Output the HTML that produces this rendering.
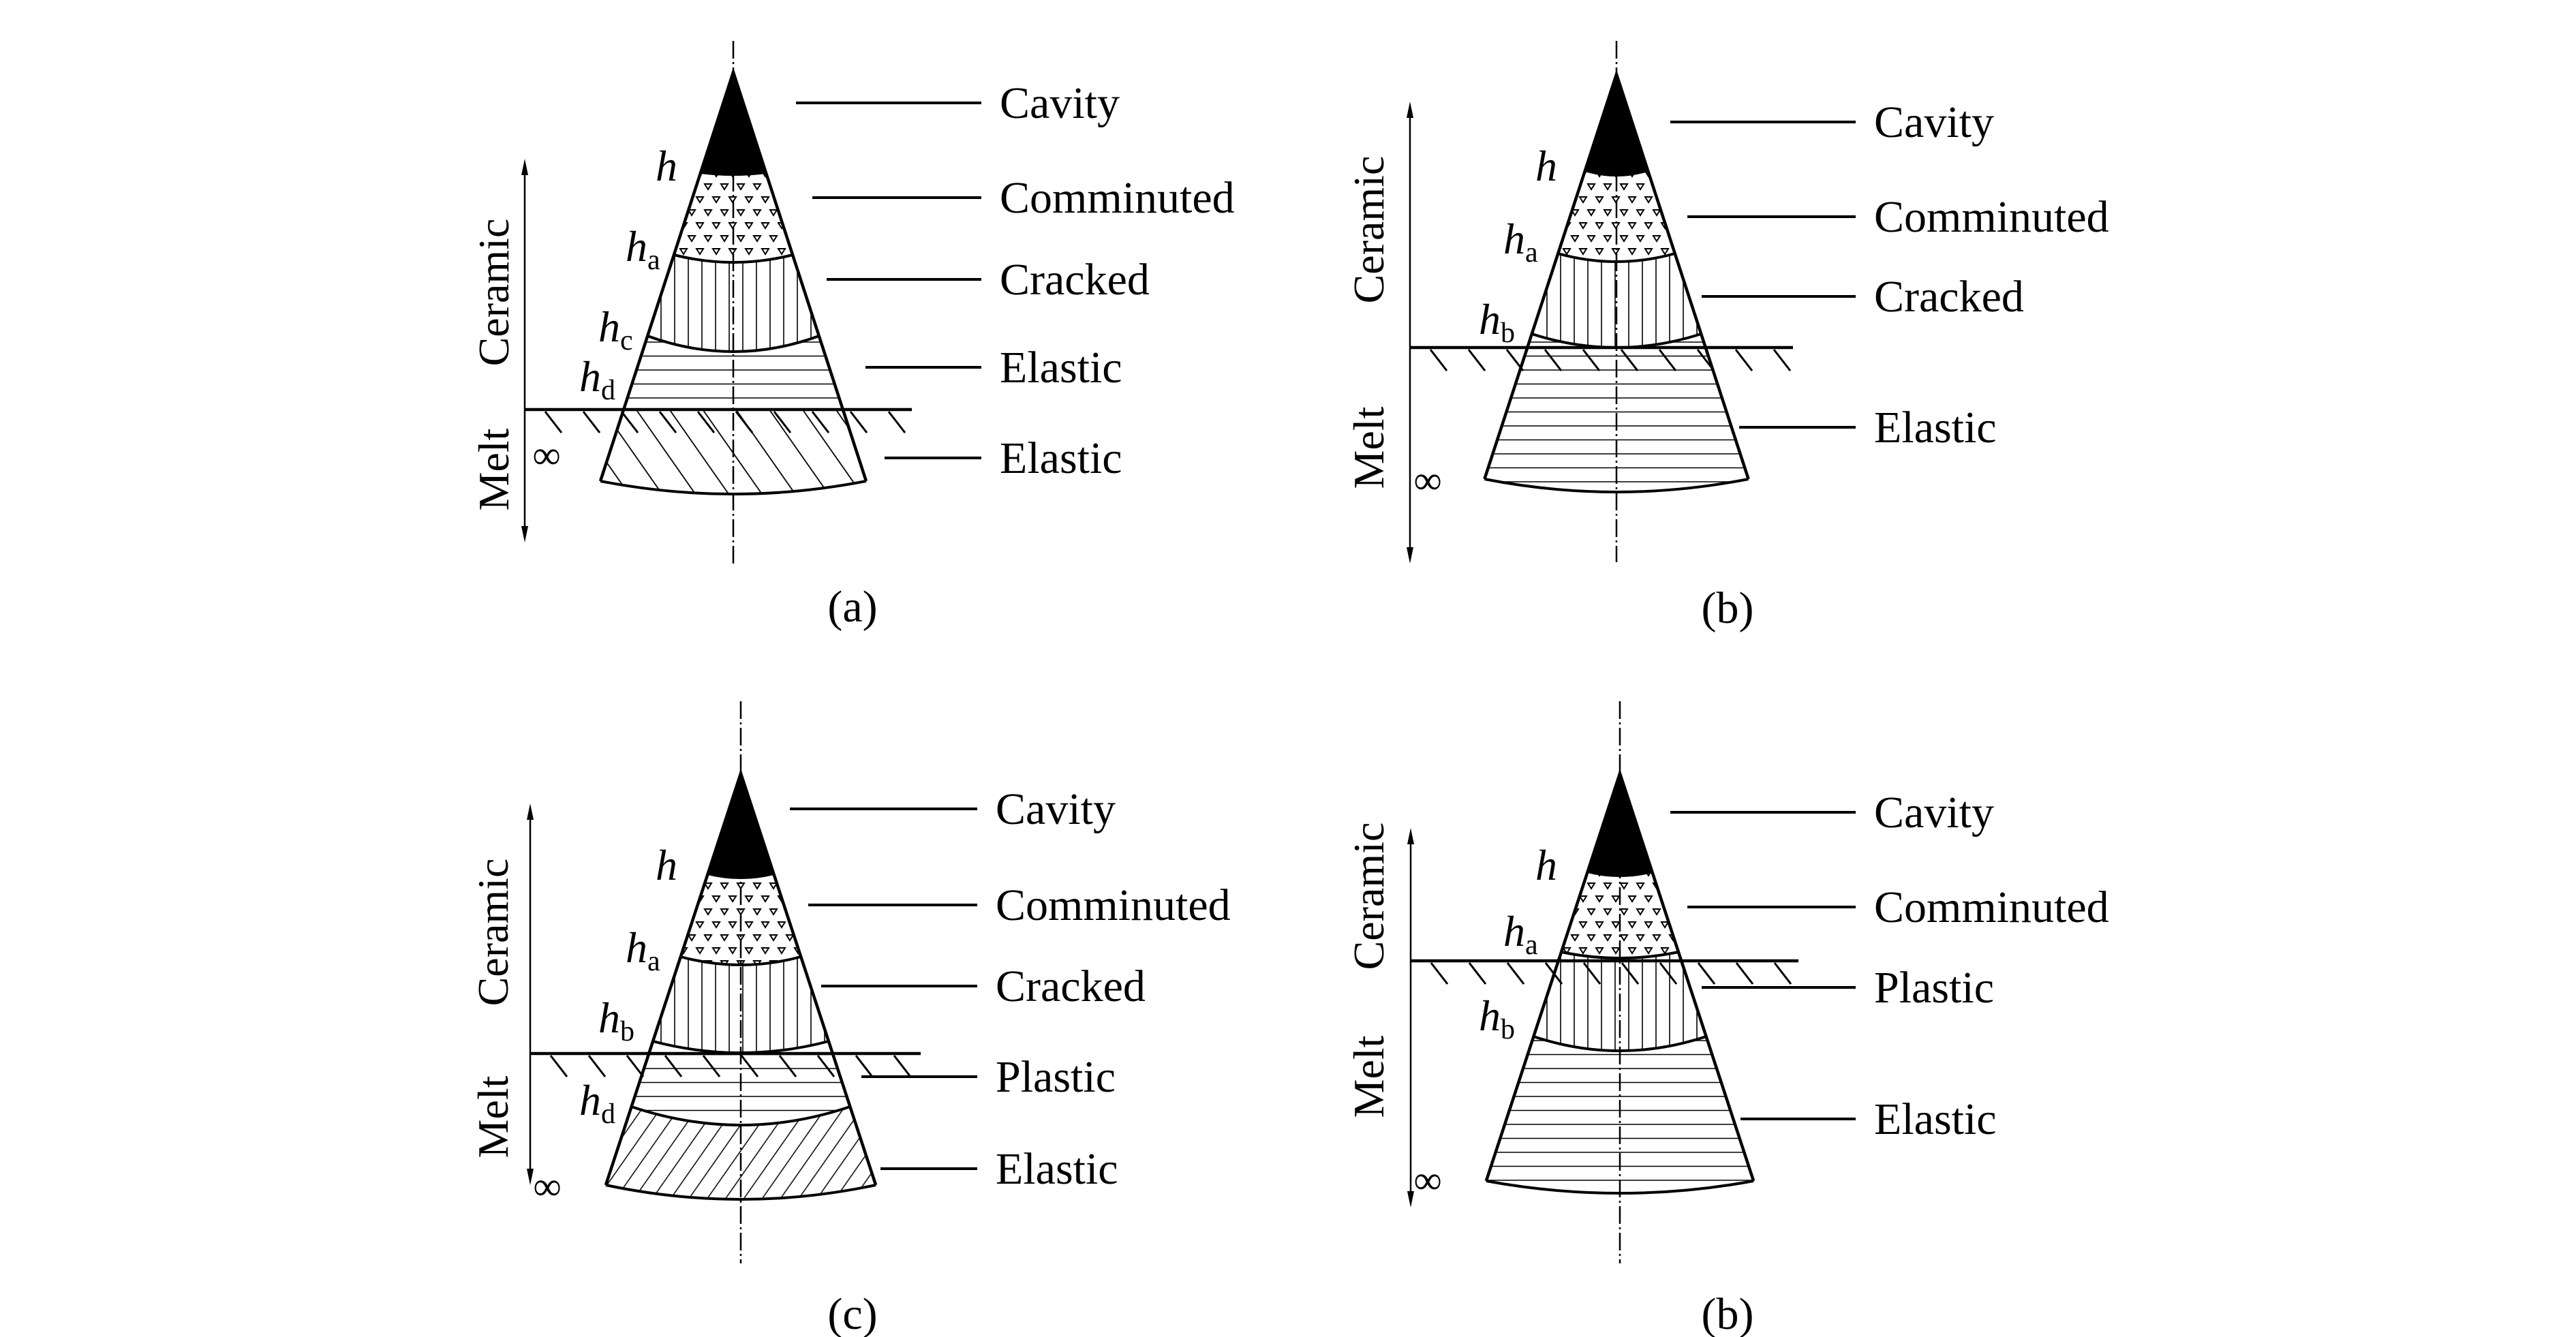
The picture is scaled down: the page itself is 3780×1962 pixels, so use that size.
<!DOCTYPE html>
<html><head><meta charset="utf-8"><style>
html,body{margin:0;padding:0;background:#fff;}
svg{display:block;}
text{font-family:"Liberation Serif",serif;fill:#000;}
</style></head><body>
<svg id="fig" width="3780" height="1962" viewBox="0 0 3780 1962" xmlns="http://www.w3.org/2000/svg">
<defs>
<pattern id="tri" patternUnits="userSpaceOnUse" width="24" height="38" x="0" y="0">
<path d="M2,4 L12,4 L7,12 Z M14,23 L24,23 L19,31 Z M-10,23 L0,23 L-5,31 Z" fill="none" stroke="#000" stroke-width="2"/>
</pattern>
<pattern id="vert" patternUnits="userSpaceOnUse" width="20" height="20"><line x1="10" y1="0" x2="10" y2="20" stroke="#000" stroke-width="1.6"/></pattern>
<pattern id="horz" patternUnits="userSpaceOnUse" width="20" height="20.5"><line x1="0" y1="10" x2="20" y2="10" stroke="#000" stroke-width="1.6"/></pattern>
<pattern id="back" patternUnits="userSpaceOnUse" width="40" height="40" patternTransform="rotate(-35)"><line x1="20" y1="0" x2="20" y2="40" stroke="#000" stroke-width="1.8"/></pattern>
<pattern id="fwd" patternUnits="userSpaceOnUse" width="22" height="22" patternTransform="rotate(35)"><line x1="11" y1="0" x2="11" y2="22" stroke="#000" stroke-width="1.5"/></pattern>
</defs>
</svg>
<script>
// panel data: boundaries [edgeY, centerY]
const panelNames = ['a','b','c','d'];
const panelCx = [1076, 2372, 1087, 2377];
const panelApex = [106, 109, 1135, 1135];
const panelBounds = [
  [[253,256],[374,385],[493,516],[601,601],[706,725]],
  [[250,257],[372,384],[490,510],[703,722]],
  [[1282,1288],[1404,1416],[1528,1545],[1624,1651],[1739,1760]],
  [[1279,1285],[1397,1406],[1521,1542],[1733,1751]]
];
const panelFills = [
  ['black','tri','vert','horz','back'],
  ['black','tri','vert','horz'],
  ['black','tri','vert','horz','fwd'],
  ['black','tri','vert','horz']
];
const panelSlope = [0.325, 0.326, 0.328, 0.328];
const panelLine = [[60,830],[60,825],[1029,1854],[1029,1854]];
const groundY = [601, 510, 1546, 1410];
const groundX = [[770,1338],[2069,2631],[778,1351],[2070,2639]];
const arrowX = [770, 2069, 778, 2070];
const arrowY = [[233,796],[149,827],[1179,1739],[1215,1772]];
const ceramicPos = [[746,429],[2030,337],[745,1368],[2030,1315]];
const meltPos = [[746,689],[2030,657],[745,1639],[2030,1580]];
const leaderText = [
  ['Cavity','Comminuted','Cracked','Elastic','Elastic'],
  ['Cavity','Comminuted','Cracked','Elastic'],
  ['Cavity','Comminuted','Cracked','Plastic','Elastic'],
  ['Cavity','Comminuted','Plastic','Elastic']
];
const leaderY = [[151,290,410,539,672],[179,318,435,627],[1187,1328,1447,1580,1715],[1192,1331,1449,1642]];
const leaderX0 = [[1168,1192,1213,1270,1298],[2451,2476,2497,2552],[1159,1186,1205,1264,1292],[2451,2476,2497,2554]];
const leaderX1 = [1440, 2723, 1434, 2723];
const hLabels = [['','a','c','d'],['','a','b'],['','a','b','d'],['','a','b']];
const hPos = [
  [[962,265],[918,383],[878,501],[850,574]],
  [[2253,265],[2206,372],[2170,490]],
  [[962,1291],[918,1412],[878,1515],[850,1636]],
  [[2253,1291],[2206,1388],[2170,1512]]
];
const infPos = [[802,669],[2095,706],[803,1742],[2095,1733]];
const capText = ['(a)','(b)','(c)','(b)'];
const capPos = [[1251,912],[2535,914],[1251,1950],[2535,1950]];

const NS='http://www.w3.org/2000/svg';
const svg=document.getElementById('fig');
function mk(tag,attrs,parent){const e=document.createElementNS(NS,tag);for(const k in attrs)e.setAttribute(k,attrs[k]);(parent||svg).appendChild(e);return e;}

panelNames.forEach((p,i)=>{
  const g=mk('g',{});
  
  
  const cx=panelCx[i], ay=panelApex[i], k=panelSlope[i];
  const xl=y=>cx-k*(y-ay), xr=y=>cx+k*(y-ay);
  const b=panelBounds[i];
  // zones
  for(let z=0;z<b.length;z++){
    const bot=b[z];
    let d;
    const cb=2*bot[1]-bot[0];
    if(z===0){
      d=`M${cx},${ay} L${xr(bot[0])},${bot[0]} Q${cx},${cb} ${xl(bot[0])},${bot[0]} Z`;
    } else {
      const top=b[z-1]; const ct=2*top[1]-top[0];
      d=`M${xl(top[0])},${top[0]} Q${cx},${ct} ${xr(top[0])},${top[0]} L${xr(bot[0])},${bot[0]} Q${cx},${cb} ${xl(bot[0])},${bot[0]} Z`;
    }
    const f=panelFills[i][z];
    const zone=mk('path',{d:d,fill:f==='black'?'#000':'url(#'+f+')',stroke:'none'},g);
    
    
    // boundary curve
    if(z<b.length-1 || true){
      const bc=mk('path',{d:`M${xl(bot[0])},${bot[0]} Q${cx},${cb} ${xr(bot[0])},${bot[0]}`,fill:'none',stroke:'#000','stroke-width':4},g);
      
      
    }
  }
  const last=b[b.length-1][0];
  const outline=mk('path',{d:`M${xl(last)},${last} L${cx},${ay} L${xr(last)},${last}`,fill:'none',stroke:'#000','stroke-width':4.5,'stroke-linejoin':'miter'},g);
  
  
  // centerline
  const cl=mk('line',{x1:cx,y1:panelLine[i][0],x2:cx,y2:panelLine[i][1],stroke:'#000','stroke-width':2.5,'stroke-dasharray':'26 5 3 5'},g);
  
  
  // ground
  const gy=groundY[i], gx=groundX[i];
  const gl=mk('line',{x1:gx[0],y1:gy,x2:gx[1],y2:gy,stroke:'#000','stroke-width':4.5},g);
  
  
  for(let x=gx[0]+30;x<gx[1];x+=56){
    const h=mk('line',{x1:x,y1:gy+3,x2:x+24,y2:gy+34,stroke:'#000','stroke-width':3},g);
    
    
  }
  // arrow
  const ax=arrowX[i], ay0=arrowY[i][0], ay1=arrowY[i][1];
  const ar=mk('line',{x1:ax,y1:ay0+10,x2:ax,y2:ay1-10,stroke:'#000','stroke-width':2.5},g);
  
  
  const ah=mk('path',{d:`M${ax},${ay0} L${ax-5},${ay0+24} L${ax+5},${ay0+24} Z M${ax},${ay1} L${ax-5},${ay1-24} L${ax+5},${ay1-24} Z`,fill:'#000'},g);
  
  
  const ce=mk('text',{x:ceramicPos[i][0],y:ceramicPos[i][1],'font-size':64,'text-anchor':'middle',transform:`rotate(-90 ${ceramicPos[i][0]} ${ceramicPos[i][1]})`},g);
  ce.textContent='Ceramic';
  
  
  const me=mk('text',{x:meltPos[i][0],y:meltPos[i][1],'font-size':64,'text-anchor':'middle',transform:`rotate(-90 ${meltPos[i][0]} ${meltPos[i][1]})`},g);
  me.textContent='Melt';
  
  
  // leaders
  leaderText[i].forEach((t,j)=>{
    const ly=leaderY[i][j];
    const ll=mk('line',{x1:leaderX0[i][j],y1:ly,x2:leaderX1[i],y2:ly,stroke:'#000','stroke-width':4},g);
    
    
    const tx=mk('text',{x:leaderX1[i]+27,y:ly+22,'font-size':66},g);
    tx.textContent=t;
    
    
  });
  // h labels
  hLabels[i].forEach((s,j)=>{
    const t=mk('text',{x:hPos[i][j][0],y:hPos[i][j][1],'font-size':64,'font-style':'italic'},g);
    t.textContent='h';
    if(s){const ts=mk('tspan',{'font-size':42,'font-style':'normal',dy:12},t);ts.textContent=s;}
    
    
  });
  const inf=mk('text',{x:infPos[i][0],y:infPos[i][1]+18,'font-size':58,'text-anchor':'middle'},g);
  inf.textContent='∞';
  
  
  const cap=mk('text',{x:capPos[i][0],y:capPos[i][1],'font-size':66,'text-anchor':'middle'},g);
  cap.textContent=capText[i];
  
  
});
</script>
</body></html>
